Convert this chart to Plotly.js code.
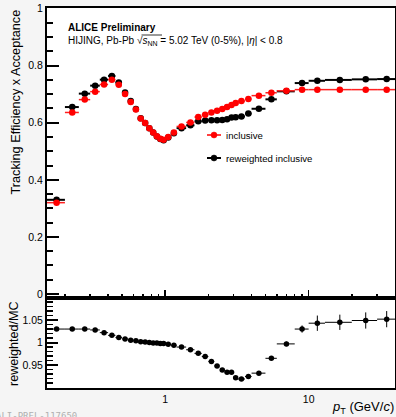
<!DOCTYPE html>
<html>
<head>
<meta charset="utf-8">
<script src="https://cdn.plot.ly/plotly-3.0.1.min.js"></script>
<style>
html,body{margin:0;padding:0;background:#f5f5f5;}
#chart{width:396px;height:417px;}
</style>
</head>
<body>
<div id="chart"></div>
<script>
// pT bin edges (GeV/c)
const binEdges = [0.15,0.2,0.25,0.3,0.35,0.4,0.45,0.5,0.55,0.6,0.65,0.7,0.75,0.8,0.85,0.9,0.95,1.0,1.1,1.2,1.4,1.6,1.8,2.0,2.2,2.4,2.6,2.8,3.0,3.2,3.6,4.0,5.0,6.0,8.0,10,13,20,30,40];
// inclusive efficiency x acceptance (red)
const inclusive = [0.320,0.636,0.681,0.709,0.734,0.751,0.733,0.701,0.673,0.646,0.615,0.599,0.581,0.566,0.553,0.544,0.540,0.550,0.566,0.587,0.601,0.620,0.628,0.636,0.642,0.648,0.655,0.662,0.669,0.676,0.683,0.695,0.705,0.712,0.716,0.716,0.716,0.716,0.716];
// reweighted inclusive (black)
const reweighted = [0.330,0.655,0.702,0.730,0.751,0.764,0.741,0.706,0.676,0.648,0.616,0.599,0.581,0.566,0.552,0.543,0.539,0.548,0.563,0.581,0.591,0.605,0.608,0.609,0.609,0.610,0.612,0.618,0.619,0.622,0.632,0.649,0.682,0.710,0.739,0.747,0.750,0.752,0.753];
const reweightedErr = [0,0,0,0,0,0,0,0,0,0,0,0,0,0,0,0,0,0,0,0,0,0,0,0,0,0,0,0,0,0,0,0,0.001,0.002,0.004,0.006,0.006,0.007,0.007];
// ratio reweighted/MC
const ratio = [1.030,1.030,1.030,1.028,1.022,1.016,1.011,1.008,1.005,1.004,1.002,1.001,1.000,0.999,0.999,0.998,0.998,0.996,0.994,0.990,0.984,0.976,0.969,0.958,0.948,0.939,0.934,0.934,0.922,0.919,0.9245,0.932,0.965,0.997,1.030,1.043,1.045,1.049,1.052];
const ratioErr = [0.001,0.001,0.001,0.001,0.001,0.001,0.001,0.001,0.001,0.001,0.001,0.001,0.001,0.001,0.001,0.001,0.001,0.001,0.001,0.001,0.001,0.001,0.001,0.001,0.001,0.001,0.001,0.001,0.001,0.001,0.001,0.002,0.003,0.005,0.008,0.017,0.017,0.018,0.018];
// labels
const yTickVals = [0,0.2,0.4,0.6,0.8,1];
const yTickText = ['0','0.2','0.4','0.6','0.8','1'];
const rTickVals = [0.95,1,1.05];
const rTickText = ['0.95','1','1.05'];

const centers = [], errPlus = [], errMinus = [];
for (let i = 0; i < binEdges.length - 1; i++) {
  const c = (binEdges[i] + binEdges[i+1]) / 2;
  centers.push(c);
  errPlus.push(binEdges[i+1] - c);
  errMinus.push(c - binEdges[i]);
}

const FONT = 'Liberation Sans, Arial, Helvetica, sans-serif';

// pixel -> paper helpers for decoration
const L = 47, R = 395, T = 8, B = 388;
const px = v => (v - L) / (R - L);
const py = v => (B - v) / (B - T);

const traces = [
  {
    x: centers, y: reweighted, type: 'scatter', mode: 'markers',
    xaxis: 'x', yaxis: 'y', showlegend: false,
    marker: {color: '#000', size: 6.5, symbol: 'circle'},
    error_x: {type: 'data', symmetric: false, array: errPlus, arrayminus: errMinus, color: '#000', thickness: 2, width: 0},
    error_y: {type: 'data', array: reweightedErr, color: '#000', thickness: 1.5, width: 0}
  },
  {
    x: centers, y: inclusive, type: 'scatter', mode: 'markers',
    xaxis: 'x', yaxis: 'y', showlegend: false,
    marker: {color: '#ff0000', size: 6.5, symbol: 'circle'},
    error_x: {type: 'data', symmetric: false, array: errPlus, arrayminus: errMinus, color: '#ff2020', thickness: 1.5, width: 0}
  },
  {
    x: centers, y: ratio, type: 'scatter', mode: 'markers',
    xaxis: 'x2', yaxis: 'y2', showlegend: false,
    marker: {color: '#000', size: 5.5, symbol: 'circle'},
    error_x: {type: 'data', symmetric: false, array: errPlus, arrayminus: errMinus, color: '#000', thickness: 1, width: 0},
    error_y: {type: 'data', array: ratioErr, color: '#000', thickness: 1, width: 0}
  }
];

const xRange = [Math.log10(0.15), Math.log10(40)];
const minorX = [0.2,0.3,0.4,0.5,0.6,0.7,0.8,0.9,2,3,4,5,6,7,8,9,20,30];
const splitFrac = (B - 298) / (B - T);

const layout = {
  width: 396, height: 417,
  margin: {l: L, r: 396 - R, t: T, b: 417 - B},
  paper_bgcolor: '#f5f5f5',
  plot_bgcolor: '#ffffff',
  font: {family: FONT, size: 10, color: '#000'},
  showlegend: false,
  xaxis: {
    type: 'log', range: xRange, domain: [0, 1], anchor: 'y',
    showline: true, linewidth: 2, linecolor: '#000', mirror: true,
    showgrid: false, zeroline: false,
    tickmode: 'array', tickvals: [1, 10], ticktext: ['', ''],
    ticks: 'inside', ticklen: 8, tickwidth: 1.5, tickcolor: '#000',
    showticklabels: false,
    minor: {tickmode: 'array', tickvals: minorX, ticks: 'inside', ticklen: 4, tickwidth: 1.5, tickcolor: '#000', showgrid: false}
  },
  yaxis: {
    range: [-0.014, 1.002], domain: [splitFrac, 1], anchor: 'x',
    showline: true, linewidth: 2, linecolor: '#000', mirror: true,
    showgrid: false, zeroline: false,
    tickmode: 'array', tickvals: yTickVals, ticktext: yTickText,
    ticks: 'inside', ticklen: 12, tickwidth: 2, tickcolor: '#000',
    tickfont: {family: FONT, size: 10.5, color: '#000'},
    minor: {tickmode: 'linear', tick0: 0, dtick: 0.05, ticks: 'inside', ticklen: 6, tickwidth: 2, tickcolor: '#000', showgrid: false}
  },
  xaxis2: {
    type: 'log', range: xRange, domain: [0, 1], anchor: 'y2',
    showline: true, linewidth: 2, linecolor: '#000', mirror: true,
    showgrid: false, zeroline: false,
    tickmode: 'array', tickvals: [1, 10], ticktext: ['1', '10'],
    ticks: '', tickfont: {family: FONT, size: 10.5, color: '#000'}
  },
  yaxis2: {
    range: [0.899, 1.099], domain: [0, splitFrac], anchor: 'x2',
    showline: true, linewidth: 2, linecolor: '#000', mirror: true,
    showgrid: false, zeroline: false,
    tickmode: 'array', tickvals: rTickVals, ticktext: rTickText,
    ticks: 'inside', ticklen: 11, tickwidth: 2, tickcolor: '#000',
    tickfont: {family: FONT, size: 10.5, color: '#000'},
    minor: {tickmode: 'linear', tick0: 0.9, dtick: 0.01, ticks: 'inside', ticklen: 6, tickwidth: 1.5, tickcolor: '#000', showgrid: false}
  },
  annotations: [
    {xref: 'paper', yref: 'paper', x: px(15), y: py(8), xanchor: 'center', yanchor: 'top',
     text: 'Tracking Efficiency x Acceptance', textangle: -90, showarrow: false,
     font: {family: FONT, size: 12.7, color: '#000'}},
    {xref: 'paper', yref: 'paper', x: px(14), y: py(344), xanchor: 'center', yanchor: 'middle',
     text: 'reweighted/MC', textangle: -90, showarrow: false,
     font: {family: FONT, size: 12.6, color: '#000'}},
    {xref: 'paper', yref: 'paper', x: px(396), y: py(407), xanchor: 'right', yanchor: 'middle',
     text: '<i>p</i><sub>T</sub> (GeV/<i>c</i>)', showarrow: false,
     font: {family: FONT, size: 13, color: '#000'}},
    {xref: 'paper', yref: 'paper', x: px(66), y: py(27.7), xanchor: 'left', yanchor: 'middle',
     text: '<b>ALICE Preliminary</b>', showarrow: false,
     font: {family: FONT, size: 10, color: '#000'}},
    {xref: 'paper', yref: 'paper', x: px(66), y: py(41), xanchor: 'left', yanchor: 'middle',
     text: 'HIJING, Pb-Pb √<i>s</i><sub>NN</sub> = 5.02 TeV (0-5%), |<i>η</i>| < 0.8', showarrow: false,
     font: {family: FONT, size: 10, color: '#000'}},
    {xref: 'paper', yref: 'paper', x: px(224), y: py(135), xanchor: 'left', yanchor: 'middle',
     text: 'inclusive', showarrow: false,
     font: {family: FONT, size: 9.6, color: '#000'}},
    {xref: 'paper', yref: 'paper', x: px(224), y: py(158), xanchor: 'left', yanchor: 'middle',
     text: 'reweighted inclusive', showarrow: false,
     font: {family: FONT, size: 9.6, color: '#000'}},
    {xref: 'paper', yref: 'paper', x: px(-6), y: py(416), xanchor: 'left', yanchor: 'middle',
     text: 'ALI-PREL-117650', showarrow: false,
     font: {family: 'DejaVu Sans Mono, monospace', size: 9, color: '#b0b0b0'}}
  ],
  shapes: [
    {type: 'line', xref: 'paper', yref: 'paper', x0: px(141.5), x1: px(162), y0: py(35), y1: py(35), line: {color: '#000', width: 0.8}},
    {type: 'line', xref: 'paper', yref: 'paper', x0: px(207), x1: px(221), y0: py(135), y1: py(135), line: {color: '#ff0000', width: 1.5}},
    {type: 'circle', xref: 'paper', yref: 'paper', x0: px(211), x1: px(217), y0: py(132), y1: py(138), fillcolor: '#ff0000', line: {color: '#ff0000', width: 0.5}},
    {type: 'line', xref: 'paper', yref: 'paper', x0: px(207), x1: px(221), y0: py(158), y1: py(158), line: {color: '#000', width: 2}},
    {type: 'circle', xref: 'paper', yref: 'paper', x0: px(211), x1: px(217), y0: py(155), y1: py(161), fillcolor: '#000', line: {color: '#000', width: 0.5}}
  ]
};

Plotly.newPlot('chart', traces, layout, {displayModeBar: false, staticPlot: true});
</script>
</body>
</html>
